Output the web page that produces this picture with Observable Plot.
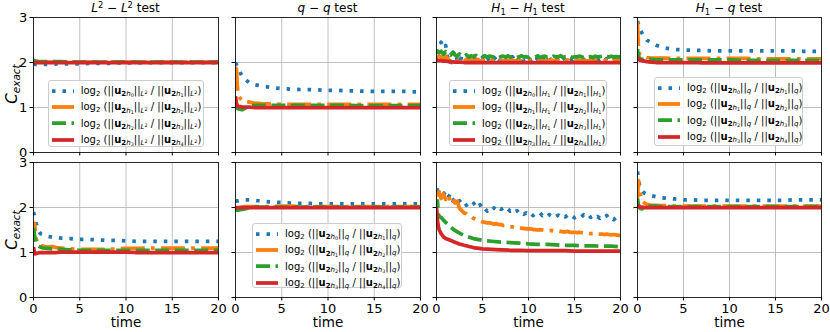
<!DOCTYPE html>
<html><head><meta charset="utf-8">
<script src="https://cdn.jsdelivr.net/npm/d3@7"></script>
<script src="https://cdn.jsdelivr.net/npm/@observablehq/plot@0.6"></script>
<style>
body{margin:0;background:#fff;font-family:"DejaVu Sans",sans-serif;}
#fig{position:relative;width:830px;height:332px;overflow:hidden;background:#fff;}
#fig > svg{position:absolute;}
.ttl{position:absolute;width:200px;text-align:center;font-size:12px;line-height:16px;top:0;white-space:nowrap;}
.ylab{position:absolute;width:100px;height:20px;line-height:20px;text-align:center;font-size:15px;transform:rotate(-90deg);white-space:nowrap;}
.leg{position:absolute;box-sizing:border-box;border:1px solid #cccccc;border-radius:3px;background:rgba(255,255,255,0.8);padding-top:1.5px;}
.row{height:16.3px;display:flex;align-items:center;font-size:10px;white-space:nowrap;}
.row svg{margin-left:3px;margin-right:7px;flex:none;}
sub,sup{font-size:0.7em;line-height:0;}
sub{vertical-align:-0.3em;} sup{vertical-align:0.45em;}
</style></head><body><div id="fig"></div>
<script>
// ---- time grids ----
const T = [0,0.1,0.2,0.3,0.5,0.75,1,1.5,2,2.5,3,4,5,6,7,8,9,10,11,12,13,14,15,16,17,18,19,20];
const TN = d3.range(0, 20.0001, 0.25);

// ---- L2-L2 test, top ----
const l2Top_b = [1.98,1.97,1.96,1.96,1.96,1.96,1.96,1.96,1.96,1.97,1.97,1.97,1.97,1.98,1.98,1.98,1.99,1.99,1.99,2.00,2.00,2.00,2.00,2.00,2.00,2.00,2.00,2.00];
const l2Top_o = [2.03,2.02,2.02,2.02,2.01,2.01,2.01,2.01,2.01,2.01,2.01,2.01,2.01,2.01,2.01,2.01,2.01,2.01,2.01,2.01,2.01,2.01,2.01,2.01,2.01,2.01,2.01,2.01];
const l2Top_g = [2.05,2.04,2.03,2.03,2.02,2.02,2.02,2.02,2.02,2.02,2.02,2.01,2.01,2.01,2.01,2.01,2.01,2.01,2.01,2.01,2.01,2.01,2.01,2.01,2.01,2.01,2.01,2.01];
const l2Top_r = [2.00,2.00,2.00,2.00,2.00,2.00,2.00,2.00,2.00,2.00,2.00,2.00,2.00,2.00,2.00,2.00,2.00,2.00,2.00,2.00,2.00,2.00,2.00,2.00,2.00,2.00,2.00,2.00];
// ---- q-q test, top ----
const qqTop_b = [2.00,1.95,1.90,1.87,1.78,1.68,1.63,1.55,1.51,1.49,1.47,1.44,1.42,1.41,1.40,1.40,1.39,1.38,1.38,1.37,1.37,1.36,1.36,1.36,1.36,1.36,1.35,1.35];
const qqTop_o = [1.90,1.85,1.45,1.30,1.20,1.15,1.14,1.12,1.10,1.09,1.08,1.08,1.07,1.07,1.07,1.07,1.07,1.07,1.07,1.07,1.07,1.07,1.07,1.07,1.07,1.07,1.07,1.07];
const qqTop_g = [1.05,1.00,0.98,0.97,0.96,0.95,0.98,1.03,1.05,1.05,1.05,1.05,1.05,1.05,1.05,1.05,1.05,1.05,1.05,1.05,1.04,1.04,1.04,1.04,1.04,1.04,1.04,1.04];
const qqTop_r = [1.25,1.10,1.04,1.02,1.02,1.01,1.01,1.01,1.00,1.00,1.00,1.00,1.00,1.00,1.00,1.00,1.00,1.00,1.00,1.00,1.00,1.00,1.00,1.00,1.00,1.00,1.00,1.00];
// ---- H1-H1 test, top (noisy series on TN) ----
const h1Top_b = [2.20,2.30,2.45,2.32,2.38,2.02,1.96,2.20,2.26,2.05,1.98,2.15,2.12,2.02,2.18,2.10,2.00,2.16,2.08,1.97,2.12,2.06,2.14,2.02,2.10,2.08,2.13,2.00,2.09,2.12,2.04,2.11,2.06,2.13,2.03,2.10,2.07,2.15,2.02,2.09,2.12,2.05,2.10,2.03,2.08,2.13,2.04,2.10,2.06,2.12,2.03,2.08,2.11,2.04,2.09,2.14,2.03,2.07,2.10,2.05,2.11,2.02,2.08,2.13,2.05,2.09,2.03,2.10,2.07,2.12,2.04,2.08,2.10,2.03,2.09,2.11,2.05,2.08,2.06,2.10,2.07];
const h1Top_o = [2.10,2.15,2.12,2.05,2.14,2.08,2.02,2.10,2.06,2.03,2.08,2.05,2.02,2.07,2.04,2.06,2.03,2.05,2.07,2.03,2.05,2.04,2.06,2.02,2.05,2.04,2.06,2.03,2.05,2.04,2.02,2.05,2.04,2.06,2.03,2.04,2.05,2.03,2.06,2.04,2.03,2.05,2.04,2.06,2.03,2.05,2.04,2.02,2.05,2.04,2.06,2.03,2.05,2.04,2.03,2.05,2.04,2.06,2.03,2.04,2.05,2.03,2.05,2.04,2.06,2.03,2.04,2.05,2.03,2.05,2.04,2.03,2.05,2.04,2.06,2.03,2.04,2.05,2.04,2.05,2.04];
const h1Top_g = [2.28,2.22,2.25,2.18,2.24,2.20,2.16,2.22,2.17,2.14,2.19,2.15,2.13,2.17,2.12,2.15,2.13,2.16,2.12,2.14,2.13,2.15,2.11,2.14,2.13,2.12,2.15,2.11,2.13,2.14,2.12,2.15,2.12,2.13,2.14,2.11,2.13,2.15,2.12,2.13,2.11,2.14,2.13,2.12,2.15,2.11,2.13,2.14,2.12,2.13,2.11,2.14,2.12,2.13,2.15,2.11,2.13,2.12,2.14,2.11,2.13,2.12,2.14,2.13,2.11,2.14,2.12,2.13,2.11,2.14,2.12,2.13,2.14,2.11,2.13,2.12,2.14,2.12,2.13,2.12,2.13];
const h1Top_r = [2.06,2.05,2.05,2.04,2.04,2.03,2.03,2.02,2.01,2.01,2.00,2.00,2.00,2.00,2.00,2.00,2.00,2.00,2.00,2.00,2.00,2.00,2.00,2.00,2.00,2.00,2.00,2.00];
// ---- H1-q test, top ----
const hqTop_b = [2.92,2.85,2.78,2.72,2.65,2.56,2.50,2.44,2.39,2.35,2.32,2.29,2.28,2.27,2.27,2.26,2.26,2.26,2.26,2.26,2.26,2.26,2.26,2.26,2.26,2.25,2.25,2.25];
const hqTop_o = [2.90,2.30,2.20,2.16,2.14,2.12,2.11,2.10,2.10,2.10,2.10,2.09,2.09,2.09,2.09,2.09,2.09,2.09,2.09,2.09,2.08,2.08,2.08,2.08,2.08,2.08,2.08,2.08];
const hqTop_g = [2.30,2.15,2.10,2.08,2.07,2.07,2.07,2.07,2.06,2.06,2.06,2.06,2.06,2.06,2.06,2.06,2.06,2.06,2.05,2.05,2.05,2.05,2.05,2.05,2.05,2.05,2.05,2.05];
const hqTop_r = [2.12,2.08,2.06,2.05,2.04,2.03,2.02,2.01,2.00,2.00,2.00,2.00,2.00,2.00,1.99,1.99,1.99,1.99,1.99,1.99,1.99,1.99,1.99,1.99,1.99,1.99,1.99,1.99];

// ---- L2-L2 test, bottom ----
const l2Bot_b = [1.90,1.82,1.72,1.64,1.50,1.42,1.40,1.36,1.34,1.33,1.32,1.31,1.29,1.29,1.28,1.27,1.27,1.26,1.25,1.25,1.25,1.25,1.25,1.25,1.25,1.25,1.25,1.25];
const l2Bot_o = [1.30,1.65,1.45,1.30,1.20,1.15,1.14,1.12,1.13,1.11,1.10,1.08,1.07,1.07,1.07,1.07,1.08,1.09,1.09,1.10,1.10,1.10,1.10,1.10,1.10,1.10,1.10,1.10];
const l2Bot_g = [1.55,1.40,1.28,1.22,1.15,1.12,1.10,1.09,1.08,1.08,1.07,1.06,1.05,1.05,1.05,1.05,1.05,1.05,1.05,1.05,1.05,1.05,1.05,1.05,1.05,1.05,1.05,1.05];
const l2Bot_r = [1.12,1.00,0.97,0.98,0.99,1.00,1.00,1.00,1.00,1.00,1.01,1.01,1.01,1.01,1.01,1.01,1.01,1.01,1.00,1.00,1.00,1.00,1.00,1.00,1.00,1.00,1.00,1.00];
// ---- q-q test, bottom ----
const qqBot_b = [2.13,2.14,2.15,2.15,2.16,2.17,2.17,2.17,2.16,2.15,2.14,2.12,2.11,2.10,2.09,2.09,2.08,2.08,2.08,2.08,2.08,2.08,2.08,2.08,2.08,2.08,2.08,2.08];
const qqBot_o = [1.98,1.97,1.98,1.99,2.00,2.01,2.02,2.02,2.02,2.02,2.02,2.02,2.03,2.03,2.02,2.02,2.02,2.02,2.02,2.02,2.02,2.02,2.02,2.02,2.02,2.02,2.02,2.02];
const qqBot_g = [1.97,1.95,1.94,1.94,1.95,1.96,1.97,2.00,2.01,2.01,2.01,2.01,2.01,2.01,2.01,2.01,2.01,2.01,2.01,2.01,2.01,2.01,2.01,2.01,2.01,2.01,2.01,2.01];
const qqBot_r = [1.99,1.99,2.00,2.00,2.00,2.00,2.00,2.00,2.00,2.00,2.00,2.00,2.00,2.00,2.00,2.00,2.00,2.00,2.00,2.00,2.00,2.00,2.00,2.00,2.00,2.00,2.00,2.00];
// ---- H1-H1 test, bottom (blue/orange noisy on TN) ----
const h1Bot_b = [2.40,2.38,2.42,2.30,2.35,2.22,2.30,2.15,2.20,2.10,2.15,2.08,2.12,2.05,2.10,2.04,2.08,2.12,2.02,2.06,1.95,1.98,1.92,1.97,1.93,1.99,1.94,2.00,1.96,1.99,1.93,1.97,1.92,1.95,1.89,1.93,1.87,1.90,1.85,1.88,1.83,1.87,1.82,1.86,1.84,1.88,1.82,1.85,1.80,1.84,1.81,1.85,1.80,1.83,1.78,1.82,1.79,1.83,1.78,1.81,1.77,1.80,1.83,1.79,1.84,1.80,1.84,1.78,1.82,1.77,1.80,1.76,1.81,1.78,1.82,1.75,1.78,1.73,1.77,1.80,1.76];
const h1Bot_o = [2.25,2.35,2.20,2.30,2.18,2.28,2.15,2.22,2.10,2.14,1.98,1.93,1.88,1.86,1.82,1.80,1.76,1.74,1.72,1.70,1.68,1.67,1.66,1.66,1.65,1.63,1.64,1.62,1.62,1.60,1.60,1.58,1.57,1.57,1.55,1.56,1.54,1.54,1.53,1.53,1.52,1.53,1.51,1.51,1.50,1.51,1.50,1.49,1.49,1.48,1.49,1.48,1.47,1.48,1.47,1.46,1.46,1.47,1.45,1.45,1.45,1.44,1.45,1.44,1.43,1.44,1.43,1.42,1.42,1.43,1.41,1.41,1.41,1.40,1.41,1.40,1.39,1.40,1.39,1.38,1.38];
const h1Bot_g = [2.00,2.15,1.85,1.80,1.78,1.72,1.67,1.57,1.49,1.43,1.38,1.31,1.27,1.25,1.23,1.22,1.21,1.19,1.18,1.18,1.17,1.16,1.16,1.15,1.15,1.14,1.14,1.13];
const h1Bot_r = [2.00,1.72,1.58,1.50,1.42,1.35,1.31,1.27,1.23,1.19,1.16,1.11,1.08,1.07,1.06,1.05,1.05,1.04,1.04,1.04,1.04,1.04,1.03,1.03,1.03,1.03,1.03,1.03];
// ---- H1-q test, bottom ----
const hqBot_b = [2.80,2.65,2.52,2.45,2.37,2.32,2.30,2.26,2.24,2.22,2.21,2.19,2.17,2.17,2.16,2.16,2.16,2.16,2.16,2.16,2.16,2.16,2.16,2.16,2.17,2.17,2.17,2.17];
const hqBot_o = [2.20,2.60,2.40,2.30,2.15,2.10,2.07,2.05,2.05,2.04,2.04,2.03,2.03,2.03,2.03,2.03,2.03,2.03,2.03,2.03,2.03,2.03,2.03,2.03,2.03,2.03,2.03,2.03];
const hqBot_g = [2.20,2.05,2.00,1.98,1.97,2.00,2.03,2.03,2.03,2.02,2.02,2.02,2.02,2.02,2.02,2.02,2.02,2.02,2.02,2.02,2.02,2.02,2.02,2.02,2.02,2.02,2.02,2.02];
const hqBot_r = [2.06,2.04,2.02,2.01,2.01,2.00,2.00,2.00,2.00,2.00,2.00,2.00,2.00,2.00,2.00,2.00,2.00,2.00,2.00,2.00,2.00,2.00,2.00,2.00,2.00,2.00,2.00,2.00];

// ---- labels ----
const titles = ['<i>L</i><sup>2</sup> − <i>L</i><sup>2</sup> test','<i>q</i> − <i>q</i> test','<i>H</i><sub>1</sub> − <i>H</i><sub>1</sub> test','<i>H</i><sub>1</sub> − <i>q</i> test'];
const xTicks = [0,5,10,15,20];
const yTicks = [0,1,2,3];
const xLabel = "time";

// ---- styles ----
const colors = {b:"#1f77b4", o:"#ff7f0e", g:"#2ca02c", r:"#d62728"};
const dashes = {b:"3.5,7", o:"24,6.2,3.75,6.2", g:"14,5.5", r:null};

const panels = [
  {r:0,c:0,s:[[T,l2Top_b,"b"],[T,l2Top_o,"o"],[T,l2Top_g,"g"],[T,l2Top_r,"r"]]},
  {r:0,c:1,s:[[T,qqTop_b,"b"],[T,qqTop_o,"o"],[T,qqTop_g,"g"],[T,qqTop_r,"r"]]},
  {r:0,c:2,s:[[TN,h1Top_b,"b"],[TN,h1Top_o,"o"],[TN,h1Top_g,"g"],[T,h1Top_r,"r"]]},
  {r:0,c:3,s:[[T,hqTop_b,"b"],[T,hqTop_o,"o"],[T,hqTop_g,"g"],[T,hqTop_r,"r"]]},
  {r:1,c:0,s:[[T,l2Bot_b,"b"],[T,l2Bot_o,"o"],[T,l2Bot_g,"g"],[T,l2Bot_r,"r"]]},
  {r:1,c:1,s:[[T,qqBot_b,"b"],[T,qqBot_o,"o"],[T,qqBot_g,"g"],[T,qqBot_r,"r"]]},
  {r:1,c:2,s:[[TN,h1Bot_b,"b"],[TN,h1Bot_o,"o"],[T,h1Bot_g,"g"],[T,h1Bot_r,"r"]]},
  {r:1,c:3,s:[[T,hqBot_b,"b"],[T,hqBot_o,"o"],[T,hqBot_g,"g"],[T,hqBot_r,"r"]]},
];

const colLeft = [33,235,436,637], colW = [185,185,184,184];
const rowTop = [17,162], rowH = 135;
const fig = document.getElementById("fig");

for (const p of panels) {
  const mL = p.c===0 ? 33 : 8, mR = 8, mT = p.r===0 ? 17 : 5, mB = p.r===1 ? 35 : 5;
  const lines = p.s.map(([xs, ys, k]) => {
    const data = xs.map((t,i)=>({t, v: ys[i]})).filter(d => d.v !== undefined);
    const o = {x:"t", y:"v", stroke: colors[k], strokeWidth: 3.75, strokeLinecap: "butt", strokeLinejoin: "round", clip: true};
    if (dashes[k]) o.strokeDasharray = dashes[k];
    return Plot.line(data, o);
  });
  const svg = Plot.plot({
    width: colW[p.c] + mL + mR, height: rowH + mT + mB,
    marginLeft: mL, marginRight: mR, marginTop: mT, marginBottom: mB,
    x: {domain:[0,20]}, y: {domain:[0,3]},
    style: {background:"transparent", overflow:"visible", fontFamily:"DejaVu Sans", color:"black"},
    marks: [
      Plot.gridX(xTicks, {stroke:"#b0b0b0", strokeOpacity:1, strokeWidth:0.8}),
      Plot.gridY(yTicks, {stroke:"#b0b0b0", strokeOpacity:1, strokeWidth:0.8}),
      ...lines,
      Plot.frame({stroke:"black", strokeWidth:0.8}),
      Plot.axisX({ticks:xTicks, tickSize:3.5, tickPadding:3, fontSize:13, label:null, tickFormat: p.r===1 ? (d=>String(d)) : (()=>"")}),
      Plot.axisY({ticks:yTicks, tickSize:3.5, tickPadding:2.8, fontSize:13, label:null, tickFormat: p.c===0 ? (d=>String(d)) : (()=>"")}),
      p.r===1 ? Plot.text([xLabel], {text:d=>d, frameAnchor:"bottom", lineAnchor:"bottom", dy:29, fontSize:13.5}) : null
    ]
  });
  svg.style.left = (colLeft[p.c]-mL)+"px";
  svg.style.top = (rowTop[p.r]-mT)+"px";
  fig.appendChild(svg);
}

// titles
titles.forEach((t,c)=>{
  const d = document.createElement("div");
  d.className = "ttl"; d.innerHTML = t;
  d.style.left = (colLeft[c] + colW[c]/2 - 100) + "px";
  fig.appendChild(d);
});
// y labels
[84, 230].forEach(cy=>{
  const d = document.createElement("div");
  d.className = "ylab"; d.innerHTML = '<i>C</i><sub><i>exact</i></sub>';
  d.style.left = (12-50)+"px"; d.style.top = (cy-10)+"px";
  fig.appendChild(d);
});
// legends
const norms = {L2:'<i>L</i><sup>2</sup>', H1:'<i>H</i><sub>1</sub>', q:'<i>q</i>'};
const legends = [
  {left:47.7, top:80, w:156.5, h:67, n:"L2"},
  {left:252, top:223, w:150, h:65, n:"q"},
  {left:449, top:80, w:158, h:66, n:"H1"},
  {left:654, top:77, w:149, h:69, n:"q"},
];
const keys = ["b","o","g","r"];
for (const L of legends) {
  const box = document.createElement("div");
  box.className = "leg";
  Object.assign(box.style, {left:L.left+"px", top:L.top+"px", width:L.w+"px", height:L.h+"px"});
  const nm = norms[L.n];
  box.innerHTML = keys.map((k,i)=>{
    const u = j => `<b>u</b><sub><b>2</b><i>h</i><sub>${j}</sub></sub>`;
    return `<div class="row"><svg width="22" height="8"><line x1="0" x2="22" y1="4" y2="4" stroke="${colors[k]}" stroke-width="3.75" ${dashes[k]?`stroke-dasharray="${dashes[k]}"`:""}/></svg><span>log<sub>2</sub> (||${u(i)}||<sub>${nm}</sub> / ||${u(i+1)}||<sub>${nm}</sub>)</span></div>`;
  }).join("");
  fig.appendChild(box);
}
</script></body></html>
